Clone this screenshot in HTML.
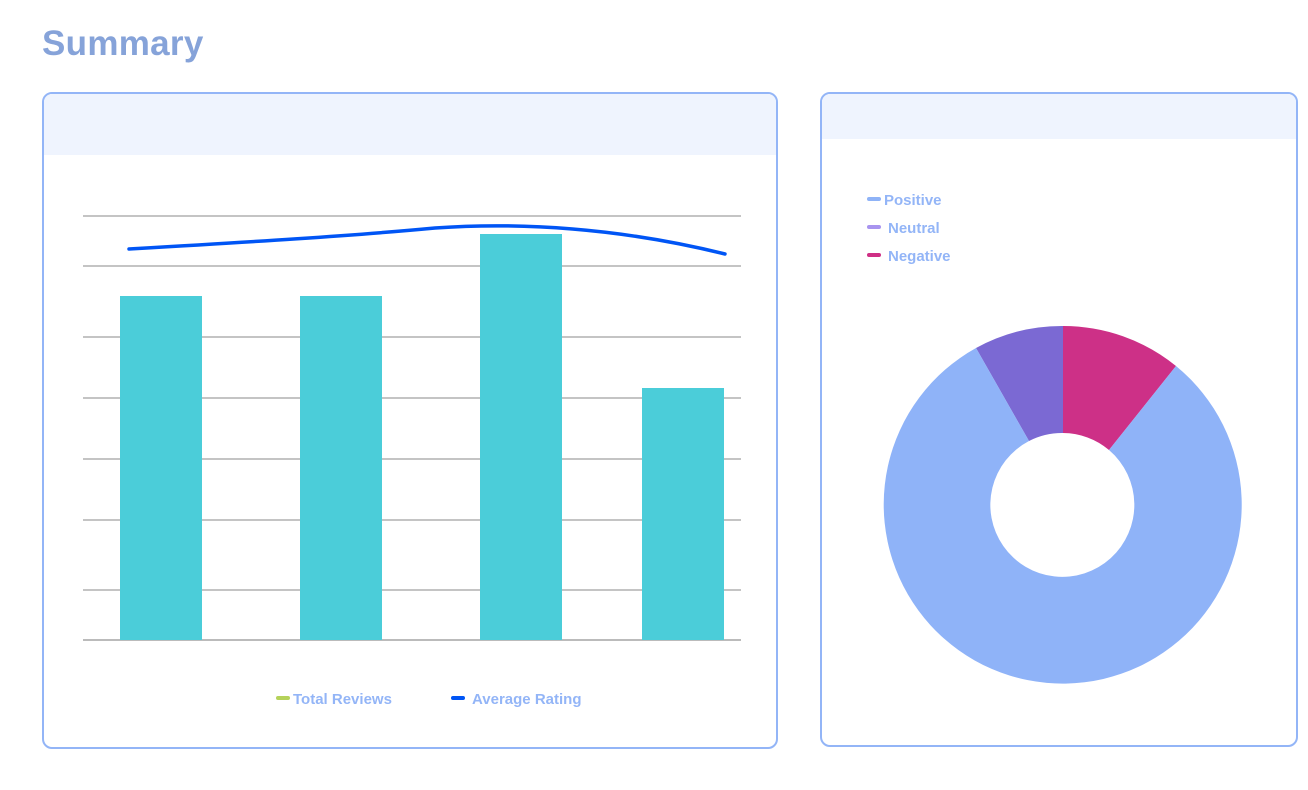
<!DOCTYPE html>
<html><head><style>
body{margin:0;background:#fff;width:1308px;height:790px;overflow:hidden;font-family:"Liberation Sans",sans-serif;}
.t{position:absolute;left:42px;top:24px;font-size:35px;font-weight:bold;color:#86a3d9;letter-spacing:0.3px}
.card{position:absolute;border:2px solid #93b5f7;border-radius:10px;overflow:hidden;background:#fff;box-sizing:border-box}
.hd{background:#eff4fe;}
</style></head><body>
<div class="t">Summary</div>
<div class="card" style="left:42px;top:92px;width:736px;height:657px"><div class="hd" style="height:61px"></div></div>
<div class="card" style="left:820px;top:92px;width:478px;height:655px"><div class="hd" style="height:45px"></div></div>
<svg width="1308" height="790" style="position:absolute;left:0;top:0">
<g stroke="#8a8a8a" stroke-width="1">
<line x1="83" x2="741" y1="216" y2="216"/><line x1="83" x2="741" y1="266" y2="266"/>
<line x1="83" x2="741" y1="337" y2="337"/><line x1="83" x2="741" y1="398" y2="398"/>
<line x1="83" x2="741" y1="459" y2="459"/><line x1="83" x2="741" y1="520" y2="520"/>
<line x1="83" x2="741" y1="590" y2="590"/><line x1="83" x2="741" y1="640" y2="640" stroke="#777"/>
</g>
<g fill="#4bcdd9">
<rect x="120" y="296" width="82" height="344"/><rect x="300" y="296" width="82" height="344"/>
<rect x="480" y="234" width="82" height="406"/><rect x="642" y="388" width="82" height="252"/>
</g>
<path d="M129 249 C250 242 350 236 435 228 C520 222 620 228 725 254" fill="none" stroke="#0055f5" stroke-width="3.5" stroke-linecap="round"/>
<line x1="278" x2="288" y1="698" y2="698" stroke="#b5d25a" stroke-width="4" stroke-linecap="round"/>
<text x="293" y="704" font-size="15" font-weight="bold" fill="#93b5f7">Total Reviews</text>
<line x1="453" x2="463" y1="698" y2="698" stroke="#0055f5" stroke-width="4" stroke-linecap="round"/>
<text x="472" y="704" font-size="15" font-weight="bold" fill="#93b5f7">Average Rating</text>
<line x1="869" x2="879" y1="199" y2="199" stroke="#8fb3f7" stroke-width="4" stroke-linecap="round"/>
<text x="884" y="205" font-size="15" font-weight="bold" fill="#93b5f7">Positive</text>
<line x1="869" x2="879" y1="227" y2="227" stroke="#a894ef" stroke-width="4" stroke-linecap="round"/>
<text x="888" y="233" font-size="15" font-weight="bold" fill="#93b5f7">Neutral</text>
<line x1="869" x2="879" y1="255" y2="255" stroke="#cf2f85" stroke-width="4" stroke-linecap="round"/>
<text x="888" y="261" font-size="15" font-weight="bold" fill="#93b5f7">Negative</text>
<g transform="translate(1063,505)">
<path d="M0 -179 A179 179 0 0 1 113 -139 L46 -55 A72 72 0 0 0 0 -72 Z" fill="#cd3087"/>
<path d="M-87 -157 A179 179 0 0 1 0 -179 L0 -72 A72 72 0 0 0 -34 -64 Z" fill="#7b69d3"/>
<path d="M113 -139 A179 179 0 1 1 -87 -157 L-34 -64 A72 72 0 1 0 46 -55 Z" fill="#8fb3f8"/>
</g>
</svg>
</body></html>
